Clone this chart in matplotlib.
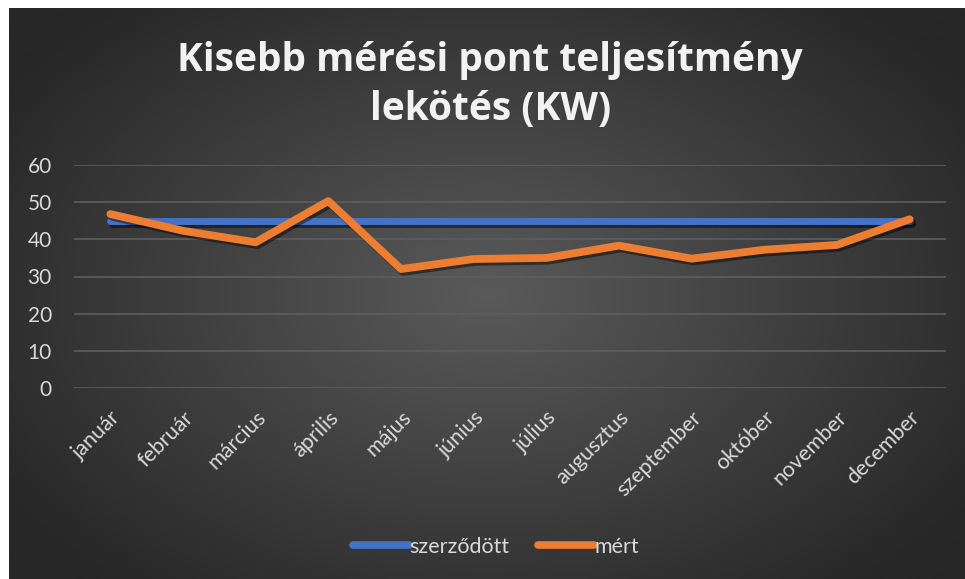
import matplotlib
matplotlib.use("Agg")
import matplotlib.pyplot as plt
import matplotlib.patheffects as pe
import numpy as np

MONTHS = ["január", "február", "március", "április", "május", "június",
          "július", "augusztus", "szeptember", "október", "november", "december"]
CONTRACTED = [45, 45, 45, 45, 45, 45, 45, 45, 45, 45, 45, 45]
MEASURED = [46.8, 42.3, 39.2, 50.3, 32.0, 34.7, 35.0, 38.3, 34.8, 37.2, 38.5, 45.4]
Y_TICKS = [0, 10, 20, 30, 40, 50, 60]

TITLE = "Kisebb mérési pont teljesítmény\nlekötés (KW)"
TEXT_COLOR = "#d9d9d9"
GRID_COLOR = "#5e5e5e"

W, H = 965, 579
fig = plt.figure(figsize=(W / 100, H / 100), dpi=100, facecolor="white")

# radial gradient background
bg = fig.add_axes([9 / W, 0, (W - 9) / W, (H - 8) / H])
bg.set_axis_off()
yy, xx = np.mgrid[0:300, 0:500]
cx, cy = 250, 150
r = np.sqrt(((xx - cx) / 300.0) ** 2 + ((yy - cy) / 200.0) ** 2)
r = np.clip(r, 0, 1)
light = np.array([0x5a, 0x5a, 0x5a]) / 255
dark = np.array([0x27, 0x27, 0x27]) / 255
img = light[None, None, :] * (1 - r[..., None]) + dark[None, None, :] * r[..., None]
bg.imshow(img, aspect="auto", extent=[0, 1, 0, 1], interpolation="bilinear")
bg.set_xlim(0, 1)
bg.set_ylim(0, 1)

ax = fig.add_axes([74 / W, 1 - 388 / H, 872 / W, 223 / H])
ax.patch.set_alpha(0)
x = np.arange(len(MONTHS))

shadow = [pe.SimpleLineShadow(offset=(1.5, -2), shadow_color="black", alpha=0.45), pe.Normal()]
ax.plot(x, CONTRACTED, color="#4472C4", linewidth=5, solid_capstyle="round",
        solid_joinstyle="round", label="szerződött", path_effects=shadow, zorder=3)
ax.plot(x, MEASURED, color="#ED7D31", linewidth=5.6, solid_capstyle="round",
        solid_joinstyle="round", label="mért", path_effects=shadow, zorder=4)

ax.set_xlim(-0.5, len(MONTHS) - 0.5)
ax.set_ylim(0, 60)
ax.set_yticks(Y_TICKS)
ax.set_xticks(x)
ax.set_xticklabels(MONTHS, rotation=45, ha="right", va="top", rotation_mode="anchor",
                   fontsize=15.5, color=TEXT_COLOR, family="Lato")
for lab in ax.get_yticklabels():
    lab.set_fontsize(15)
    lab.set_color(TEXT_COLOR)
    lab.set_family("Lato")
ax.tick_params(axis="both", length=0)
ax.tick_params(axis="y", pad=16)
ax.tick_params(axis="x", pad=14)
ax.grid(axis="y", color=GRID_COLOR, linewidth=1.2)
ax.set_axisbelow(True)
for s in ax.spines.values():
    s.set_visible(False)

fig.text(0.508, 1 - 85 / H, TITLE, ha="center", va="center", fontsize=28,
         fontweight="bold", color="#f2f2f2", family="Open Sans", linespacing=1.33)

leg = fig.legend(loc="center", bbox_to_anchor=(0.514, 1 - 547 / H), ncol=2, frameon=False,
                 prop={"family": "Lato", "size": 15.5}, handlelength=2.6, handletextpad=0.05,
                 columnspacing=1.3)
for t in leg.get_texts():
    t.set_color(TEXT_COLOR)
for h in leg.get_lines():
    h.set_linewidth(5.5)
    h.set_path_effects([])
    h.set_solid_capstyle("round")

fig.savefig("out.png", dpi=100)
